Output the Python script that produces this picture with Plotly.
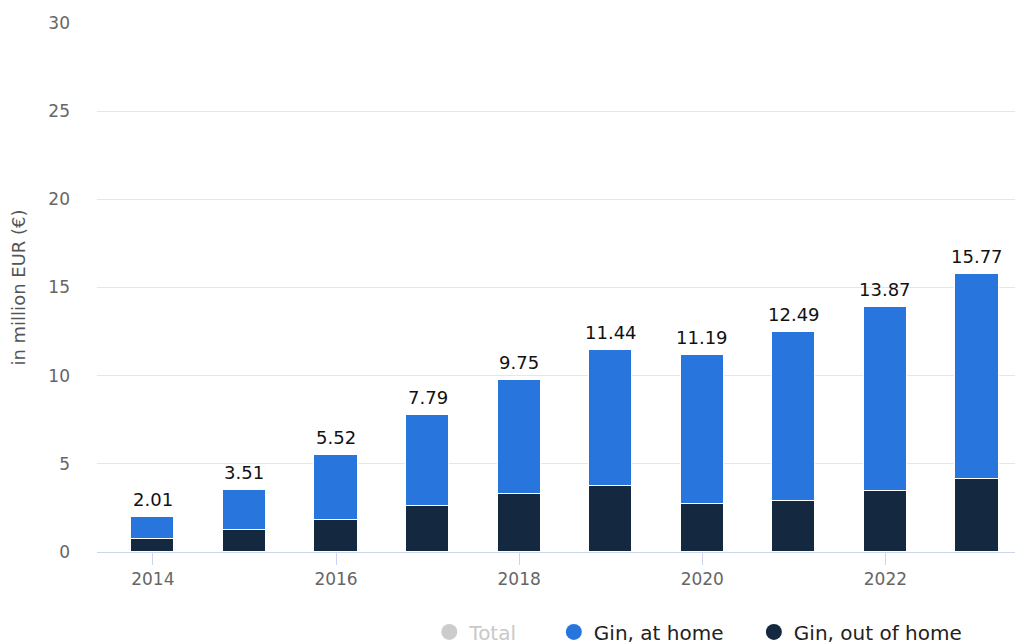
import plotly.graph_objects as go

years = [2014, 2015, 2016, 2017, 2018, 2019, 2020, 2021, 2022, 2023]
totals = [2.01, 3.51, 5.52, 7.79, 9.75, 11.44, 11.19, 12.49, 13.87, 15.77]
out_of_home = [0.76, 1.25, 1.84, 2.61, 3.29, 3.77, 2.71, 2.92, 3.48, 4.14]
at_home = [1.25, 2.26, 3.68, 5.18, 6.46, 7.67, 8.48, 9.57, 10.39, 11.63]
total_labels = ["2.01", "3.51", "5.52", "7.79", "9.75", "11.44", "11.19", "12.49", "13.87", "15.77"]
x_ticks = [2014, 2016, 2018, 2020, 2022]
y_ticks = [0, 5, 10, 15, 20, 25, 30]

DARK = "#14283f"
BLUE = "#2876dd"
FONT = "DejaVu Sans"

fig = go.Figure()
fig.add_trace(go.Bar(x=years, y=out_of_home, marker=dict(color=DARK, line=dict(color="#ffffff", width=1)),
                     width=0.47, showlegend=False, hoverinfo="skip"))
fig.add_trace(go.Bar(x=years, y=at_home, marker=dict(color=BLUE, line=dict(color="#ffffff", width=1)),
                     width=0.47, showlegend=False, hoverinfo="skip"))

for xv, yv, lab in zip(years, totals, total_labels):
    fig.add_annotation(x=xv, y=yv, text=lab, showarrow=False, yanchor="bottom", xanchor="center",
                       yshift=5, font=dict(family=FONT, size=18, color="#111111"))

# legend entries (circles)
fig.add_trace(go.Scatter(x=[None], y=[None], mode="markers",
                         name="<span style='color:#c8c8c8'>Total</span>" + "\u00a0" * 5,
                         marker=dict(symbol="circle", size=20, color="#cccccc"), legendrank=1))
fig.add_trace(go.Scatter(x=[None], y=[None], mode="markers", name="Gin, at home" + "\u00a0" * 4,
                         marker=dict(symbol="circle", size=20, color=BLUE), legendrank=2))
fig.add_trace(go.Scatter(x=[None], y=[None], mode="markers", name="Gin, out of home",
                         marker=dict(symbol="circle", size=20, color=DARK), legendrank=3))

fig.update_layout(
    width=1028, height=644,
    margin=dict(l=89, r=21, t=15, b=100, autoexpand=False),
    paper_bgcolor="white", plot_bgcolor="white",
    barmode="stack", bargap=0,
    font=dict(family=FONT, color="#666666"),
    showlegend=True,
    legend=dict(orientation="h", x=0.362, xanchor="left", y=-0.151, yanchor="middle",
                font=dict(family=FONT, size=20, color="#222222"), itemsizing="trace",
                traceorder="normal", tracegroupgap=0, itemwidth=30),
)
fig.update_xaxes(range=[2013.39, 2023.415], tickvals=x_ticks, ticktext=[str(v) for v in x_ticks],
                 showgrid=False, showline=False, zeroline=False,
                 ticks="outside", ticklen=12, tickcolor="#ccd6eb", tickwidth=1,
                 tickfont=dict(family=FONT, size=17, color="#666666"))
fig.update_yaxes(range=[0, 30], tickvals=y_ticks, showgrid=True, gridcolor="#e6e6e6", gridwidth=1,
                 zeroline=True, zerolinecolor="#ccd6eb", zerolinewidth=1, showline=False,
                 ticks="", ticklabelstandoff=26,
                 tickfont=dict(family=FONT, size=17, color="#666666"),
                 title=dict(text="in million EUR (€)", font=dict(family=FONT, size=18, color="#555555"), standoff=18))

fig.write_html("out.html")
